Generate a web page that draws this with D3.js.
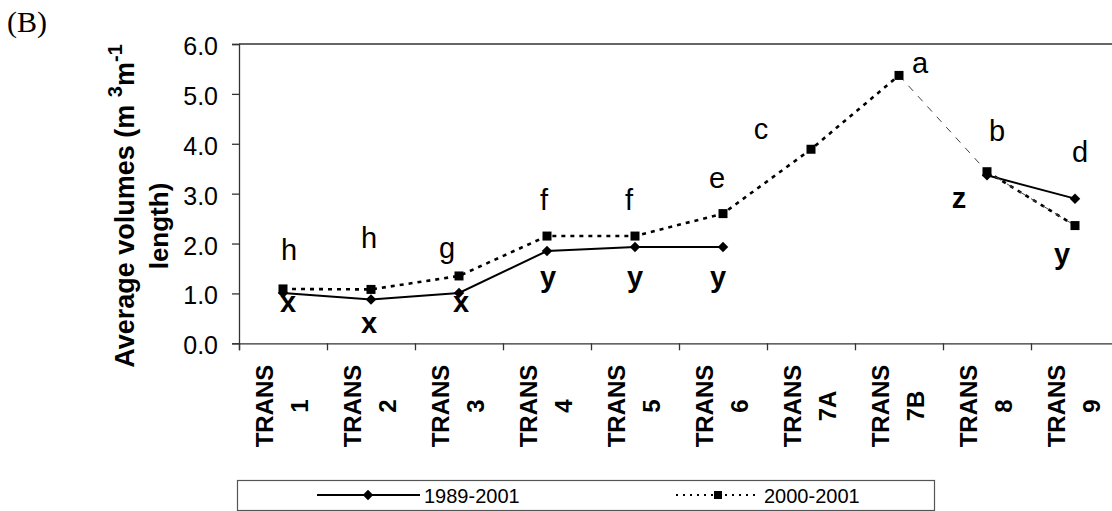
<!DOCTYPE html>
<html>
<head>
<meta charset="utf-8">
<script src="https://cdn.jsdelivr.net/npm/d3@7"></script>
<style>
  html, body { margin: 0; padding: 0; background: #fff; }
  svg { display: block; }
  text { font-family: "Liberation Sans", Arial, sans-serif; fill: #000; }
</style>
</head>
<body>
<svg id="chart" width="1112" height="511"></svg>
<script>
// ---- data ----
const categories = ["1", "2", "3", "4", "5", "6", "7A", "7B", "8", "9"];
const catPrefix = "TRANS";
const series1989 = [1.01, 0.88, 1.01, 1.85, 1.93, 1.93, null, null, 3.37, 2.90];
const series2000 = [1.09, 1.08, 1.35, 2.15, 2.15, 2.60, 3.89, 5.37, 3.44, 2.36];
const letters2000 = ["h", "h", "g", "f", "f", "e", "c", "a", "b", "d"];
const letters1989 = ["x", "x", "x", "y", "y", "y", "", "", "z", "y"];
const yTicks = [0, 1, 2, 3, 4, 5, 6];
const seriesNames = ["1989-2001", "2000-2001"];
const panelLabel = "(B)";

// ---- layout (not data) ----
const off2000 = [[6,-29],[-2,-41],[-12,-18],[-3,-26],[-6,-26],[-6,-26],[-50,-10],[21,-2],[10,-31],[5,-64]];
const off1989 = [[5,19],[-2,34],[2,19],[1,36],[0,40],[-5,40],[0,0],[0,0],[-28,33],[-13,65]];

const svg = d3.select("#chart");
const pLeft = 239, pRight = 1119, pTop = 44, pBottom = 343.3;

const x = d3.scaleBand().domain(categories).range([pLeft, pRight]).padding(0);
const xb = d3.scaleLinear().domain([0, categories.length]).range([pLeft, pRight]);
const y = d3.scaleLinear().domain([0, 6]).range([pBottom, pTop]);
const cx = c => x(c) + x.bandwidth() / 2;

// top border of plot area
svg.append("line").attr("x1", pLeft).attr("x2", pRight).attr("y1", pTop).attr("y2", pTop)
  .attr("stroke", "#333").attr("stroke-width", 1.3);

// y axis
const yAxis = svg.append("g").attr("transform", `translate(${pLeft},0)`)
  .call(d3.axisLeft(y).tickValues(yTicks).tickFormat(d3.format(".1f")).tickSize(7).tickPadding(14));
yAxis.select(".domain").attr("stroke", "#333").attr("stroke-width", 1.3);
yAxis.selectAll(".tick line").attr("stroke", "#333").attr("stroke-width", 1.3);
yAxis.selectAll(".tick text").attr("font-size", 25).attr("dy", "0.42em")
  .attr("font-family", "Liberation Sans, Arial, sans-serif").attr("fill", "#000");

// x axis (ticks at band boundaries)
const xAxis = svg.append("g").attr("transform", `translate(0,${pBottom})`)
  .call(d3.axisBottom(xb).ticks(categories.length).tickSize(7).tickFormat(""));
xAxis.select(".domain").attr("stroke", "#333").attr("stroke-width", 1.3);
xAxis.selectAll(".tick line").attr("stroke", "#333").attr("stroke-width", 1.3);

// x labels (rotated, two lines)
const xl = svg.append("g").selectAll("g").data(categories).join("g")
  .attr("transform", d => `translate(${cx(d)},406) rotate(-90)`);
xl.append("text").attr("text-anchor", "middle").attr("y", -10.5)
  .attr("font-size", 24).attr("font-weight", "bold").text(catPrefix);
xl.append("text").attr("text-anchor", "middle").attr("y", 24.5)
  .attr("font-size", 24).attr("font-weight", "bold").text(d => d);

// y title
const yt = svg.append("g").attr("transform", "translate(134,206) rotate(-90)");
const t1 = yt.append("text").attr("text-anchor", "middle").attr("font-size", 27).attr("font-weight", "bold");
t1.append("tspan").text("Average volumes (m  ");
t1.append("tspan").attr("font-size", 20).attr("dy", -12).text("3");
t1.append("tspan").attr("dy", 12).text("m");
t1.append("tspan").attr("font-size", 20).attr("dy", -12).text("-1");
yt.append("text").attr("text-anchor", "middle").attr("x", -20).attr("y", 34)
  .attr("font-size", 26).attr("font-weight", "bold").text("length)");

// panel label
svg.append("text").attr("x", 7).attr("y", 32).attr("font-size", 30)
  .style("font-family", "'Liberation Serif', 'Times New Roman', serif").text(panelLabel);

// lines
const pts = (arr) => categories.map((c, i) => ({c, i, v: arr[i]}));
const line = d3.line().defined(d => d.v != null).x(d => cx(d.c)).y(d => y(d.v));

const p1989 = pts(series1989);
const p2000 = pts(series2000);

svg.append("path").datum(p1989).attr("d", line).attr("fill", "none")
  .attr("stroke", "#000").attr("stroke-width", 2);

// dotted 2000-2001 (link 7B->8 drawn only by thin dashed connector)
svg.append("path").datum(p2000.slice(0, 8)).attr("d", line).attr("fill", "none")
  .attr("stroke", "#000").attr("stroke-width", 2.6).attr("stroke-dasharray", "4,5");
svg.append("path").datum(p2000.slice(8)).attr("d", line).attr("fill", "none")
  .attr("stroke", "#000").attr("stroke-width", 2.6).attr("stroke-dasharray", "4,5");
svg.append("path").datum(p2000.slice(7)).attr("d", line).attr("fill", "none")
  .attr("stroke", "#444").attr("stroke-width", 1).attr("stroke-dasharray", "7,7");

// markers
const diamond = d3.symbol().type(d3.symbolDiamond2).size(70);
svg.append("g").selectAll("path").data(p1989.filter(d => d.v != null)).join("path")
  .attr("d", diamond).attr("transform", d => `translate(${cx(d.c)},${y(d.v)})`)
  .attr("fill", "#000");
svg.append("g").selectAll("rect").data(p2000).join("rect")
  .attr("x", d => cx(d.c) - 4.5).attr("y", d => y(d.v) - 4.5)
  .attr("width", 9).attr("height", 9).attr("fill", "#000");

// letters
svg.append("g").selectAll("text").data(p2000).join("text")
  .attr("x", d => cx(d.c) + off2000[d.i][0]).attr("y", d => y(d.v) + off2000[d.i][1])
  .attr("text-anchor", "middle").attr("font-size", 29).text(d => letters2000[d.i]);
svg.append("g").selectAll("text").data(p1989.filter(d => d.v != null)).join("text")
  .attr("x", d => cx(d.c) + off1989[d.i][0]).attr("y", d => y(d.v) + off1989[d.i][1])
  .attr("text-anchor", "middle").attr("font-size", 29).attr("font-weight", "bold")
  .text(d => letters1989[d.i]);

// legend
const lg = svg.append("g");
lg.append("rect").attr("x", 237.5).attr("y", 480.5).attr("width", 697).attr("height", 30)
  .attr("fill", "#fff").attr("stroke", "#555").attr("stroke-width", 1.2);
lg.append("line").attr("x1", 317).attr("x2", 420).attr("y1", 495).attr("y2", 495)
  .attr("stroke", "#000").attr("stroke-width", 2);
lg.append("path").attr("d", diamond).attr("transform", "translate(368,495)").attr("fill", "#000");
lg.append("text").attr("x", 424).attr("y", 503).attr("font-size", 20).text(seriesNames[0]);
lg.append("line").attr("x1", 676).attr("x2", 760).attr("y1", 495).attr("y2", 495)
  .attr("stroke", "#000").attr("stroke-width", 2).attr("stroke-dasharray", "2,5");
lg.append("rect").attr("x", 714).attr("y", 491).attr("width", 8).attr("height", 8).attr("fill", "#000");
lg.append("text").attr("x", 764).attr("y", 503).attr("font-size", 20).text(seriesNames[1]);
</script>
</body>
</html>
